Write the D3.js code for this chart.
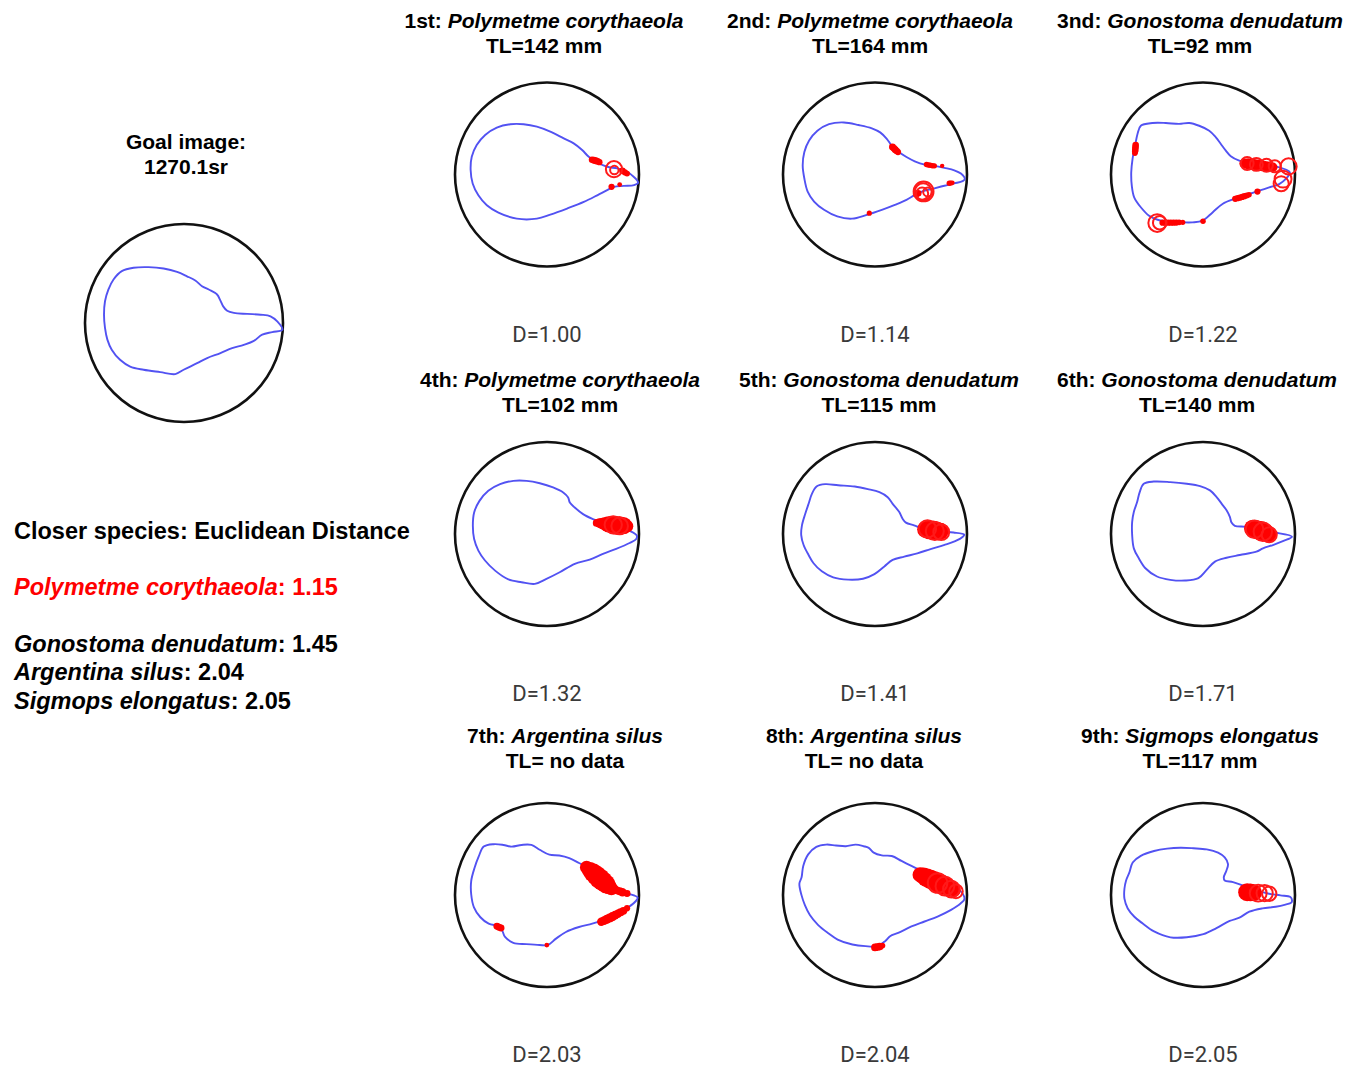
<!DOCTYPE html>
<html>
<head>
<meta charset="utf-8">
<script src="https://cdn.jsdelivr.net/npm/d3@7"></script>
<style>
  body { margin: 0; background: #fff; }
  svg { display: block; }
</style>
</head>
<body>
<svg id="fig" width="1357" height="1069"></svg>
<script>
// ---------- data ----------
// Otolith outlines in a 0..100 frame: the enclosing circle is centred at (50,50), radius 50.
const goalOutline = [
  [99.7,53.4],[97.1,49.2],[93.7,46.6],[88.7,45.8],[81.9,45.4],[75.2,44.9],[71.8,43.8],[69.8,41.6],
  [68.4,38.7],[66.7,35.6],[62.5,33.1],[59.1,31.4],[55.7,28.5],[51.5,26.4],[46.5,24.2],[39.7,22.5],
  [32.1,21.8],[24.5,22.1],[18.6,23.8],[14.4,28.0],[11.8,33.1],[10.1,39.0],[9.6,45.8],[10.1,52.5],
  [11.3,58.4],[13.5,63.5],[17.7,68.6],[22.8,72.0],[29.6,73.6],[38.0,74.8],[45.6,75.8],[49.8,73.6],
  [56.6,70.3],[61.7,67.7],[68.4,65.2],[74.3,62.7],[80.2,61.0],[85.3,59.0],[89.5,55.9],[94.6,54.6]
];
const outline1 = [
  [99.5,54.4],[93.6,48.5],[88.2,46.7],[82.7,45.8],[77.3,43.5],[72.7,40.4],[69.1,36.7],[64.5,33.1],
  [59.1,30.4],[51.8,26.7],[44.5,24.0],[37.3,22.7],[30.0,22.7],[22.7,24.5],[16.4,28.5],[11.8,34.0],
  [9.1,40.4],[8.5,47.6],[9.6,54.9],[12.7,61.3],[17.3,66.7],[23.6,70.7],[33.6,74.0],[44.5,74.0],
  [51.8,71.8],[60.9,68.5],[70.0,64.9],[77.3,61.3],[82.7,58.5],[86.4,56.7],[91.8,56.2],[97.3,55.8]
];
const outline2 = [
  [98.8,52.5],[96.7,49.5],[93.1,47.7],[87.7,46.4],[82.3,45.3],[77.0,44.6],[71.6,42.8],[67.1,40.5],
  [62.6,37.5],[59.0,34.2],[56.4,30.6],[52.8,27.1],[48.3,24.9],[41.1,23.1],[33.1,21.7],[25.0,22.6],
  [18.7,26.2],[14.2,31.5],[11.6,37.8],[10.7,45.0],[11.6,52.2],[13.4,59.3],[16.9,64.7],[22.3,69.2],
  [29.5,72.8],[37.5,74.0],[45.6,71.9],[53.7,69.2],[60.8,66.5],[67.1,63.8],[71.6,61.1],[76.1,59.0],
  [82.3,57.5],[87.7,56.1],[93.1,54.8],[97.6,53.6]
];
const outline3 = [
  [16.2,23.5],[22.5,22.0],[29.8,22.0],[37.0,22.5],[42.5,22.0],[47.9,23.5],[53.4,26.2],[57.0,29.8],
  [59.7,33.4],[62.4,37.0],[65.1,40.1],[69.7,42.5],[75.1,43.7],[82.3,44.8],[89.6,45.6],[97.2,48.8],
  [95.0,52.4],[91.4,55.2],[86.0,57.0],[80.5,58.8],[75.1,60.6],[67.8,63.0],[60.6,66.0],[55.2,70.6],
  [49.7,75.1],[44.3,76.0],[38.9,76.0],[31.6,75.6],[25.3,74.6],[20.7,72.4],[16.2,67.8],[12.6,62.4],
  [11.3,56.1],[11.0,48.8],[11.7,41.6],[13.1,34.3],[14.4,28.0]
];
const outline4 = [
  [98.8,50.9],[95.8,48.7],[91.2,47.3],[85.8,45.5],[80.4,44.0],[75.0,41.9],[69.6,39.2],[65.1,35.6],
  [62.4,32.9],[61.5,30.1],[58.8,27.4],[53.3,24.7],[46.1,22.4],[38.9,21.1],[31.7,21.1],[24.5,22.9],
  [18.1,26.5],[13.3,32.0],[10.4,38.3],[9.7,45.5],[10.4,52.7],[12.7,59.0],[16.3,64.4],[21.8,69.9],
  [29.0,74.7],[36.2,76.2],[43.4,77.1],[49.7,74.4],[56.9,70.8],[65.1,66.2],[73.2,63.9],[80.4,60.8],
  [87.6,58.1],[94.9,54.9],[98.5,52.7]
];
const outline5 = [
  [98.5,50.3],[92.7,49.2],[87.4,48.8],[82.0,48.5],[76.6,47.4],[71.2,45.3],[66.8,43.8],[65.0,41.7],
  [63.2,38.1],[59.6,33.6],[56.9,30.0],[52.4,27.3],[46.1,25.6],[39.0,24.2],[30.0,23.5],[22.9,22.9],
  [18.4,24.1],[15.7,28.2],[13.9,33.6],[12.1,39.0],[10.3,45.3],[9.9,50.6],[11.2,56.0],[13.9,61.4],
  [16.6,65.9],[21.1,70.3],[27.3,73.6],[35.4,74.8],[43.5,74.3],[49.7,71.8],[55.1,67.6],[59.6,64.1],
  [65.9,62.3],[73.0,60.5],[80.2,58.2],[87.4,56.0],[93.6,53.9],[97.7,51.5]
];
const outline6 = [
  [98.4,51.5],[88.9,49.2],[80.8,47.9],[73.6,46.1],[67.3,45.6],[65.5,43.8],[64.6,40.7],[62.8,37.1],
  [60.1,33.5],[57.4,29.9],[53.8,26.3],[48.4,24.0],[41.2,22.7],[32.2,21.8],[23.2,21.5],[17.8,22.7],
  [15.6,27.2],[14.2,32.6],[12.4,38.0],[11.5,43.4],[11.5,50.6],[12.4,57.8],[15.1,63.2],[18.7,68.6],
  [25.0,73.1],[32.2,74.9],[40.3,75.3],[47.5,74.0],[52.0,69.5],[56.5,65.0],[62.8,62.9],[70.0,61.4],
  [79.0,59.6],[82.6,57.8],[88.0,56.0],[93.4,53.9]
];
const outline7 = [
  [99.2,51.3],[95.1,49.6],[90.6,48.7],[86.2,47.4],[81.7,43.3],[76.3,37.9],[71.0,34.4],[67.4,32.6],
  [62.1,29.9],[56.7,28.5],[51.3,28.1],[46.0,25.4],[41.5,22.8],[36.2,22.8],[30.8,23.7],[26.3,22.8],
  [21.0,22.4],[15.6,23.7],[12.9,29.0],[10.6,35.3],[8.8,42.4],[8.8,49.6],[10.3,56.7],[13.8,62.1],
  [18.3,65.6],[24.6,67.4],[27.2,72.8],[31.7,76.0],[38.8,76.7],[46.0,77.2],[50.4,77.2],[54.9,73.7],
  [60.3,70.1],[67.4,67.4],[74.6,65.6],[79.9,63.8],[87.1,60.6],[94.2,56.7],[98.7,52.8]
];
const outline8 = [
  [98.6,52.3],[97.3,48.8],[94.7,46.6],[89.3,43.9],[82.2,40.4],[75.1,36.8],[69.8,34.2],[64.4,31.5],
  [59.1,28.8],[53.7,28.5],[49.3,27.0],[46.6,24.4],[43.9,23.5],[39.5,22.6],[34.2,23.5],[28.8,23.1],
  [23.5,22.6],[18.1,23.8],[13.7,27.9],[11.0,34.2],[10.1,40.4],[8.9,43.9],[10.1,50.2],[11.9,55.5],
  [14.6,60.9],[19.0,66.2],[24.4,70.6],[29.7,74.2],[37.7,76.9],[44.8,77.8],[51.1,77.8],[55.5,75.1],
  [58.2,72.4],[62.6,70.6],[69.8,67.1],[76.9,64.4],[84.0,61.7],[91.1,58.2],[96.5,54.6]
];
const outline9 = [
  [98.4,52.9],[97.5,51.1],[92.1,50.2],[85.9,49.3],[78.8,47.5],[71.6,44.8],[66.3,43.0],[61.8,42.1],
  [61.3,40.4],[62.7,36.8],[63.6,33.2],[61.8,29.6],[58.2,27.0],[52.0,25.2],[44.8,24.6],[37.7,24.3],
  [30.5,24.8],[23.4,26.1],[16.2,28.7],[11.8,32.3],[10.0,37.7],[8.2,42.1],[7.3,46.6],[7.3,52.0],
  [9.1,57.3],[12.7,61.8],[17.1,65.4],[23.4,69.8],[32.3,73.0],[41.2,73.0],[50.2,71.3],[57.3,68.0],
  [64.5,64.1],[69.8,62.3],[75.2,59.1],[82.3,57.3],[89.5,56.4],[94.8,55.2],[98.0,54.1]
];

// Mismatch markers on each candidate outline: [u, v, radius] in the same 0..100 frame.
const fills1 = [[74.5,42,1.8],[75.5,42.2,1.9],[76.5,42.5,1.9],[77.5,42.9,1.8],[78.5,43.3,1.7],
                [91,48,1.8],[92.3,48.8,1.7],[93.5,49.5,1.6],[85.1,56.7,1.7],[89.5,55.5,1.3]];
const rings1 = [[86.4,47.1,4.4],[86.6,47.6,2.3]];
const fills2 = [[59.5,35.0,1.9],[60.3,35.8,1.9],[61,36.5,1.9],[61.8,37.2,1.8],[62.5,37.8,1.7],
                [78,44.6,1.5],[79,44.8,1.5],[80,45,1.5],[81.2,45.2,1.5],[82.3,45.3,1.4],[86.5,45.3,1.2],
                [90.4,54.8,1.5],[91.2,54.6,1.4],[92,54.5,1.3],[46.9,71.0,1.4],[72.5,60.6,1.9],[73.5,60.2,1.8]];
const rings2 = [[76.4,59.2,5.4],[76.2,59.4,4.6],[78.6,59.5,2.4],[75.6,60.4,3.3]];
const fills3 = [[13.4,34,1.8],[13.3,35.2,1.8],[13.2,36.5,1.8],[13.1,37.5,1.7],[13,38.5,1.5],
                [72.5,44,2.7],[74.5,44.2,3],[76,44.5,3.1],[78,44.7,3.1],[80,45,3.1],[82,45.2,3],[84,45.5,2.9],[86,45.7,2.7],[88,46,2.5],
                [28,76.2,1.7],[29.5,76.2,1.7],[31,76.2,1.7],[32.5,76.2,1.7],[34,76.2,1.7],[35.5,76.1,1.7],[37,76,1.6],[39,76,1.4],
                [50,75.4,1.5],
                [67.5,63.2,1.7],[68.8,62.9,1.7],[70,62.6,1.7],[71.3,62.2,1.7],[72.5,61.8,1.7],[73.8,61.4,1.6],[75,61,1.5],
                [79.6,59.3,1.7]];
const rings3 = [[74,44,3.5],[79,44.5,3.5],[84.5,45,3.5],[89,45.5,3.3],[96.5,45.6,4.4],[93.5,52.5,4.6],[92.5,55,4.1],
                [25.1,76.4,4.8],[26.5,76.2,3.7]];
const fills4 = [[77,44,2.1],[78.5,44.1,2.6],[80,44.3,3.1],[81.8,44.5,3.8],[83.5,44.8,4.4],[85.5,45,4.8],
                [87.5,45.3,5.1],[89.5,45.4,5],[91.5,45.5,4.7],[93.5,45.8,3.4]];
const rings4 = [[86,45,4.7],[89.5,45.6,4.5]];
const fills5 = [[77.5,47.5,4.6],[79.5,47.8,5],[81.5,48,5.3],[83.5,48.2,5],[85.5,48.5,4.6]];
const rings5 = [[78.5,47.2,4.7],[82.5,48.4,4.9],[86,49,4.3]];
const fills6 = [[77,47,4.7],[79.2,47.6,5.1],[81.5,48.3,5.4],[83.5,49.1,5],[85.5,50,4.5]];
const rings6 = [[78,47.4,4.8],[82.5,48.8,5],[86,50.4,4.1]];
const fills7 = [[71.5,35,3.6],[73.3,36.4,4.4],[75,37.8,5.1],[76.8,39.4,5.4],[78.5,41,5.6],[80.3,42.5,5.4],[82,44,5.1],
                [83.5,45.3,4.3],[85,46.5,3.6],[86.5,47,2.6],[88,47.5,2.1],[89.5,48,2.2],[91,48.5,2.3],[93.5,49.2,1.9],
                [79.5,64.5,2.3],[81,63.9,2.4],[82.5,63.2,2.5],[84,62.5,2.5],[85.5,61.8,2.5],[87,61,2.4],[88.5,60.2,2.3],
                [90,59.4,2.2],[91.5,58.6,2.1],[93.5,57.2,1.7],
                [22.8,67,1.9],[23.9,67.5,1.9],[25,68,1.9],[49.9,77.2,1.3]];
const rings7 = [];
const fills8 = [[74.5,39,4.1],[76.3,39.7,4.6],[78,40.5,5.1],[80,41.4,5.3],[82,42.3,5.4],[84,43.2,5.3],[86,44,5.3],
                [88,44.9,5],[90,45.8,4.7],[91.5,46.6,4.2],[93,47.5,3.6],
                [50,78.5,2.1],[51.2,78.3,2.1],[52.5,78,2.1],[54,77.5,1.6]];
const rings8 = [[84,43.5,5.3],[88,45.2,5.1],[91.5,46.8,4.5],[94,48,3.7]];
const fills9 = [[74,48.5,4.9],[75.8,48.6,4.8],[77.5,48.8,4.6]];
const rings9 = [[80,49,4.6],[83.5,49,4.4],[86,49.3,3.9]];

const panelRank = ["1st", "2nd", "3nd", "4th", "5th", "6th", "7th", "8th", "9th"];
const panelSpecies = ["Polymetme corythaeola", "Polymetme corythaeola", "Gonostoma denudatum",
                      "Polymetme corythaeola", "Gonostoma denudatum", "Gonostoma denudatum",
                      "Argentina silus", "Argentina silus", "Sigmops elongatus"];
const panelTL = ["TL=142 mm", "TL=164 mm", "TL=92 mm", "TL=102 mm", "TL=115 mm", "TL=140 mm",
                 "TL= no data", "TL= no data", "TL=117 mm"];
const panelD = [1.00, 1.14, 1.22, 1.32, 1.41, 1.71, 2.03, 2.04, 2.05];
const panelOutlines = [outline1, outline2, outline3, outline4, outline5, outline6, outline7, outline8, outline9];
const panelFills = [fills1, fills2, fills3, fills4, fills5, fills6, fills7, fills8, fills9];
const panelRings = [rings1, rings2, rings3, rings4, rings5, rings6, rings7, rings8, rings9];

const goalLabel = ["Goal image:", "1270.1sr"];
const closerHeading = "Closer species: Euclidean Distance";
const closerSpecies = ["Polymetme corythaeola", "Gonostoma denudatum", "Argentina silus", "Sigmops elongatus"];
const closerDist = [1.15, 1.45, 2.04, 2.05];

// ---------- layout ----------
const svg = d3.select("#fig");
const colX = [547, 875, 1203];
const rowY = [174.5, 534, 895];
const panelR = 92;
const titleBase = [28, 387, 743];
const titleShift = [-3, -5, -3, 13, 4, -6, 18, -11, -3];
const goalCenter = [184, 323], goalR = 99;

const BOLD = "'Liberation Sans', Arial, Helvetica, sans-serif";

function drawOtolith(cx, cy, R, outline, fills, rings) {
  const x = d3.scaleLinear().domain([0, 100]).range([cx - R, cx + R]);
  const y = d3.scaleLinear().domain([0, 100]).range([cy - R, cy + R]);
  const rr = d3.scaleLinear().domain([0, 50]).range([0, R]);
  const g = svg.append("g");

  g.append("circle")
    .attr("cx", x(50)).attr("cy", y(50)).attr("r", rr(50))
    .attr("fill", "none").attr("stroke", "#111").attr("stroke-width", 2.6);

  const line = d3.line()
    .x(d => x(d[0])).y(d => y(d[1]))
    .curve(d3.curveCatmullRomClosed.alpha(0.5));
  g.append("path").attr("d", line(outline))
    .attr("fill", "none").attr("stroke", "#5252f2").attr("stroke-width", 1.9)
    .attr("stroke-linejoin", "round");

  g.selectAll("circle.hit").data(fills).join("circle")
    .attr("class", "hit")
    .attr("cx", d => x(d[0])).attr("cy", d => y(d[1])).attr("r", d => rr(d[2]))
    .attr("fill", "#ff0000");
  g.selectAll("circle.ring").data(rings).join("circle")
    .attr("class", "ring")
    .attr("cx", d => x(d[0])).attr("cy", d => y(d[1])).attr("r", d => rr(d[2]))
    .attr("fill", "none").attr("stroke", "#ff1a1a").attr("stroke-width", 2);
}

// goal outline
drawOtolith(goalCenter[0], goalCenter[1], goalR, goalOutline, [], []);
svg.selectAll("text.goal").data(goalLabel).join("text")
  .attr("class", "goal")
  .attr("x", 186).attr("y", (d, i) => 149 + i * 25)
  .attr("text-anchor", "middle")
  .attr("font-family", BOLD).attr("font-weight", "bold").attr("font-size", 21)
  .text(d => d);

// candidate panels
panelRank.forEach((rank, i) => {
  const c = i % 3, r = Math.floor(i / 3);
  const cx = colX[c], cy = rowY[r];
  drawOtolith(cx, cy, panelR, panelOutlines[i], panelFills[i], panelRings[i]);

  const t = svg.append("text")
    .attr("x", cx + titleShift[i]).attr("y", titleBase[r])
    .attr("text-anchor", "middle")
    .attr("font-family", BOLD).attr("font-weight", "bold").attr("font-size", 21);
  t.append("tspan").text(rank + ": ");
  t.append("tspan").attr("font-style", "italic").text(panelSpecies[i]);

  svg.append("text")
    .attr("x", cx + titleShift[i]).attr("y", titleBase[r] + 25)
    .attr("text-anchor", "middle")
    .attr("font-family", BOLD).attr("font-weight", "bold").attr("font-size", 21)
    .text(panelTL[i]);

  svg.append("text")
    .attr("x", cx).attr("y", cy + 167)
    .attr("text-anchor", "middle")
    .attr("font-family", "Roboto, 'Noto Sans', sans-serif").attr("font-size", 22)
    .attr("fill", "#3a3a3a")
    .text("D=" + d3.format(".2f")(panelD[i]));
});

// ranking summary
svg.append("text")
  .attr("x", 14).attr("y", 539)
  .attr("font-family", BOLD).attr("font-weight", "bold").attr("font-size", 23.5)
  .text(closerHeading);

const summaryY = [595, 652, 680, 709];
closerSpecies.forEach((sp, i) => {
  const t = svg.append("text")
    .attr("x", 14).attr("y", summaryY[i])
    .attr("font-family", BOLD).attr("font-weight", "bold").attr("font-size", 23.5)
    .attr("fill", i === 0 ? "#ff0000" : "#000");
  t.append("tspan").attr("font-style", "italic").text(sp);
  t.append("tspan").text(": " + d3.format(".2f")(closerDist[i]));
});
</script>
</body>
</html>
